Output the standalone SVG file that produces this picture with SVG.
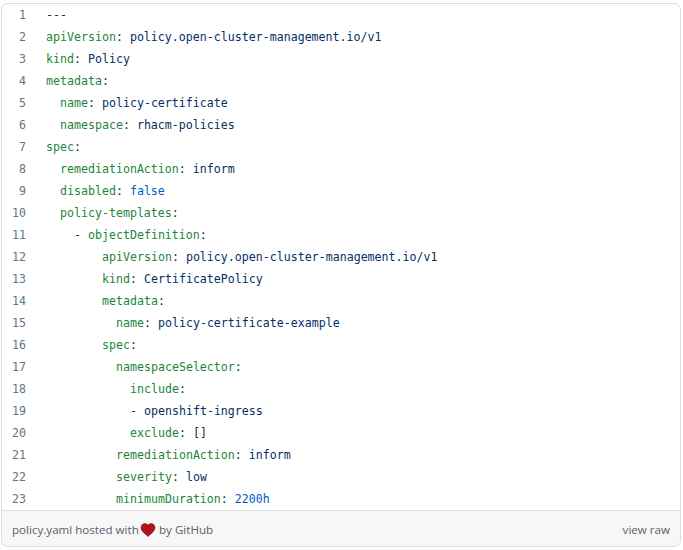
<svg xmlns="http://www.w3.org/2000/svg" width="683" height="550" viewBox="0 0 683 550">
<style>
text{white-space:pre}
.n,.k,.v,.b,.p{font-family:"DejaVu Sans Mono","Liberation Mono",monospace;font-size:11.62px}
.n{fill:#6a737d;text-anchor:end}
.k{fill:#22863a}
.v{fill:#032f62}
.b{fill:#005cc5}
.p{fill:#24292e}
.f{font-family:"Open Sans","Noto Sans",sans-serif;font-size:11.6px;fill:#586069}
</style>
<rect width="683" height="550" fill="#fff"/>
<g id="card">
<path d="M2 511H680V540a6 6 0 0 1-6 6H8a6 6 0 0 1-6-6Z" fill="#f7f7f7"/>
<rect x="1.500" y="3.500" width="679" height="543" rx="6" fill="none" stroke="#ddd"/>
<line x1="2" y1="510.500" x2="680" y2="510.500" stroke="#ddd"/>
</g>
<g id="line-numbers">
<text class="n" x="26" y="19">1</text><text class="n" x="26" y="41">2</text><text class="n" x="26" y="63">3</text><text class="n" x="26" y="85">4</text><text class="n" x="26" y="107">5</text><text class="n" x="26" y="129">6</text><text class="n" x="26" y="151">7</text><text class="n" x="26" y="173">8</text><text class="n" x="26" y="195">9</text><text class="n" x="26" y="217">10</text><text class="n" x="26" y="239">11</text><text class="n" x="26" y="261">12</text><text class="n" x="26" y="283">13</text><text class="n" x="26" y="305">14</text><text class="n" x="26" y="327">15</text><text class="n" x="26" y="349">16</text><text class="n" x="26" y="371">17</text><text class="n" x="26" y="393">18</text><text class="n" x="26" y="415">19</text><text class="n" x="26" y="437">20</text><text class="n" x="26" y="459">21</text><text class="n" x="26" y="481">22</text><text class="n" x="26" y="503">23</text>
</g>
<g id="code">
<text x="46" y="19" class="p">---</text>
<text x="46" y="41" class="k">apiVersion<tspan class="p">: </tspan><tspan class="v">policy.open-cluster-management.io/v1</tspan></text>
<text x="46" y="63" class="k">kind<tspan class="p">: </tspan><tspan class="v">Policy</tspan></text>
<text x="46" y="85" class="k">metadata<tspan class="p">:</tspan></text>
<text x="60" y="107" class="k">name<tspan class="p">: </tspan><tspan class="v">policy-certificate</tspan></text>
<text x="60" y="129" class="k">namespace<tspan class="p">: </tspan><tspan class="v">rhacm-policies</tspan></text>
<text x="46" y="151" class="k">spec<tspan class="p">:</tspan></text>
<text x="60" y="173" class="k">remediationAction<tspan class="p">: </tspan><tspan class="v">inform</tspan></text>
<text x="60" y="195" class="k">disabled<tspan class="p">: </tspan><tspan class="b">false</tspan></text>
<text x="60" y="217" class="k">policy-templates<tspan class="p">:</tspan></text>
<text x="74" y="239" class="p">- <tspan class="k">objectDefinition</tspan>:</text>
<text x="102" y="261" class="k">apiVersion<tspan class="p">: </tspan><tspan class="v">policy.open-cluster-management.io/v1</tspan></text>
<text x="102" y="283" class="k">kind<tspan class="p">: </tspan><tspan class="v">CertificatePolicy</tspan></text>
<text x="102" y="305" class="k">metadata<tspan class="p">:</tspan></text>
<text x="116" y="327" class="k">name<tspan class="p">: </tspan><tspan class="v">policy-certificate-example</tspan></text>
<text x="102" y="349" class="k">spec<tspan class="p">:</tspan></text>
<text x="116" y="371" class="k">namespaceSelector<tspan class="p">:</tspan></text>
<text x="130" y="393" class="k">include<tspan class="p">:</tspan></text>
<text x="130" y="415" class="p">- <tspan class="v">openshift-ingress</tspan></text>
<text x="130" y="437" class="k">exclude<tspan class="p">: []</tspan></text>
<text x="116" y="459" class="k">remediationAction<tspan class="p">: </tspan><tspan class="v">inform</tspan></text>
<text x="116" y="481" class="k">severity<tspan class="p">: </tspan><tspan class="v">low</tspan></text>
<text x="116" y="503" class="k">minimumDuration<tspan class="p">: </tspan><tspan class="b">2200h</tspan></text>
</g>
<g id="footer">
<text x="12" y="534" class="f">policy.yaml hosted with</text>
<path id="heart" d="M148 536.500C144 533 141 531 141 527.500C141 525 143 523.500 145 523.500C146.300 523.500 147.400 524.200 148 525.300C148.600 524.200 149.700 523.500 151 523.500C153 523.500 155 525 155 527.500C155 531 152 533 148 536.500Z" fill="#b5121b" stroke="#5c1014" stroke-width=".5"/>
<text x="159" y="534" class="f">by GitHub</text>
<text x="670" y="534" class="f" text-anchor="end">view raw</text>
</g>
</svg>
